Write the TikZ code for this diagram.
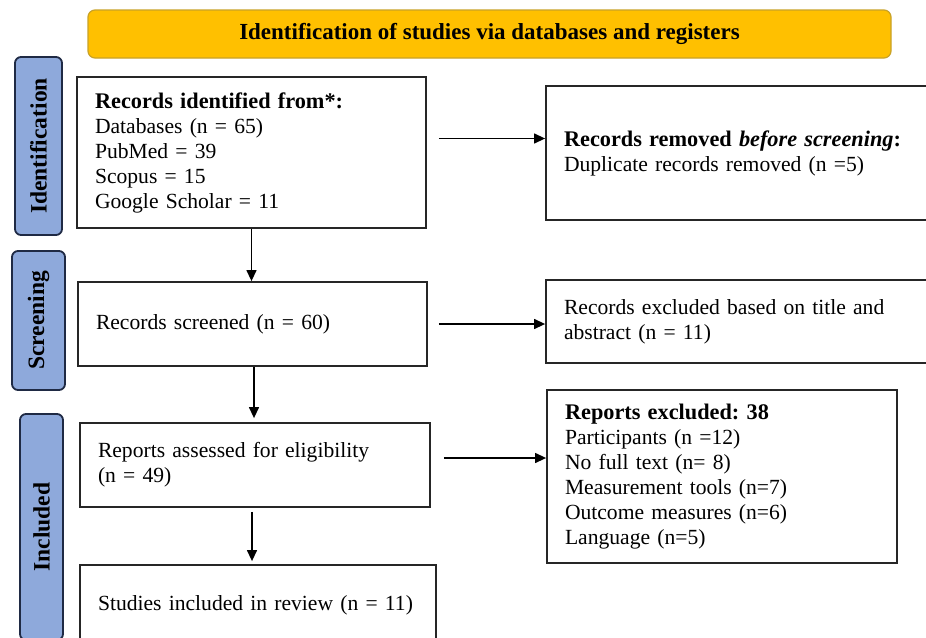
\documentclass[tikz,border=0pt]{standalone}
\usepackage{fontspec}
\setmainfont{Liberation Serif}
\usetikzlibrary{arrows.meta,calc}
\definecolor{banfill}{HTML}{FFC000}
\definecolor{banedge}{HTML}{C9A227}
\definecolor{sidefill}{HTML}{8EA9DB}
\definecolor{sideedge}{HTML}{1F2A44}
\newcommand{\hd}[1]{{\fontsize{22.3}{25}\selectfont\bfseries #1}}
\tikzset{
  x=1pt,y=-1pt,
  box/.style={draw=black!85,line width=1.8pt,fill=white,inner xsep=18pt,inner ysep=0pt,align=left,
    font=\fontsize{21.6}{25}\selectfont\frenchspacing},
  side/.style={draw=sideedge,line width=1.8pt,fill=sidefill,rounded corners=6pt,inner sep=0pt,
    font=\fontsize{23.5}{20}\selectfont\bfseries},
  arr/.style={-{Triangle[length=11pt,width=10pt]},line width=1.3pt}
}
\newcommand{\boxat}[6]{% name, x1,y1,x2,y2, text
  \node[box,minimum width={#4-#2},minimum height={#5-#3},text width={#4-#2-36},anchor=center]
    (#1) at ({(#2+#4)/2},{(#3+#5)/2}) {#6};}
\begin{document}
\begin{tikzpicture}
\useasboundingbox[fill=white] (0,0) rectangle (926,637);
% banner
\node[draw=banedge,line width=1.2pt,fill=banfill,rounded corners=7pt,minimum width=803,minimum height=48,
  font=\fontsize{23}{20}\selectfont\bfseries,inner sep=0pt] (ban) at (489.5,34) {Identification of studies via databases and registers};
% side labels
\node[side,minimum width=178,minimum height=47,rotate=90] (sid) at (38.5,146) {Identification};
\node[side,minimum width=139,minimum height=53,rotate=90] (sscr) at (38.5,320.5) {Screening};
\node[side,minimum width=226,minimum height=43,rotate=90] (sinc) at (41.5,527) {Included};
% boxes
\boxat{b1}{77}{77}{426}{228}{\hd{Records identified from*:}\\Databases (n = 65)\\PubMed = 39\\Scopus = 15\\Google Scholar = 11}
\boxat{r1}{546}{86}{950}{220}{\hd{Records removed \textit{before screening}:}\\Duplicate records removed (n =5)}
\boxat{b2}{78}{282}{427}{366}{Records screened (n = 60)}
\boxat{r2}{546}{280}{950}{363}{Records excluded based on title and\\abstract (n = 11)}
\boxat{b3}{80}{423}{430}{507}{Reports assessed for eligibility\\(n = 49)}
\boxat{r3}{547}{390}{897}{563}{\hd{Reports excluded: 38}\\Participants (n =12)\\No full text (n= 8)\\Measurement tools (n=7)\\Outcome measures (n=6)\\Language (n=5)}
\boxat{b4}{80}{565}{436}{645}{Studies included in review (n = 11)}
% arrows
\draw[arr] ([xshift=12pt,yshift=14pt]b1.east) -- ([yshift=14pt]b1.east -| r1.west);
\draw[arr] ([xshift=11pt]b2.east) -- (b2.east -| r2.west);
\draw[arr] ([xshift=13pt,yshift=7pt]b3.east) -- ([yshift=7pt]b3.east -| r3.west);
\draw[arr] (b1.south) -- (b1.south |- b2.north);
\draw[arr] ([xshift=1.5pt]b2.south) -- ([xshift=1.5pt,yshift=4pt]b2.south |- b3.north);
\draw[arr] ([xshift=-3pt,yshift=-4pt]b3.south) -- ([xshift=-3pt,yshift=3pt]b3.south |- b4.north);
\end{tikzpicture}
\end{document}
